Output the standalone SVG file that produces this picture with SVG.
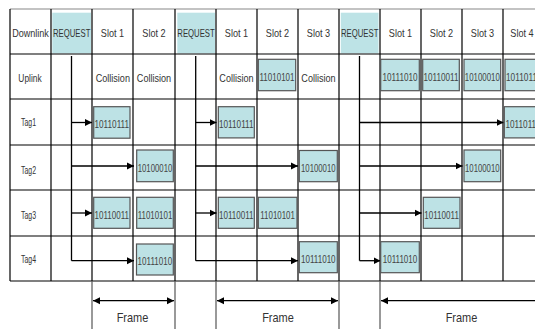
<svg xmlns="http://www.w3.org/2000/svg" width="535" height="329" viewBox="0 0 535 329">
<defs>
<marker id="ah" markerUnits="userSpaceOnUse" markerWidth="8" markerHeight="8" refX="7" refY="4" orient="auto-start-reverse">
<path d="M0,0.5 L7,4 L0,7.5 z" fill="#000"/>
</marker>
<style>
.t{font-family:"Liberation Sans",Arial,sans-serif;font-size:11px;fill:#333;text-anchor:middle}
.d{font-family:"Liberation Sans",Arial,sans-serif;font-size:10.5px;fill:#444;text-anchor:middle}
.f{font-family:"Liberation Sans",Arial,sans-serif;font-size:13.5px;fill:#333;text-anchor:middle}
.grid line{stroke:#000;stroke-width:1.2}
.req{fill:#bde3e6}
.box{fill:#bde2e5;stroke:#555;stroke-width:1.2}
.conn line,.conn polyline{stroke:#000;stroke-width:1.3;fill:none}
.guide line{stroke:#555;stroke-width:1.2}
</style>
</defs>
<rect width="535" height="329" fill="#fff"/>

<g id="request-fills">
<rect class="req" x="52.3" y="12.7" width="38.7" height="40.6"/>
<rect class="req" x="177.3" y="12.7" width="37.7" height="40.6"/>
<rect class="req" x="340.8" y="12.7" width="37.7" height="40.6"/>
</g>

<g id="grid" class="grid">
<line x1="10" y1="9" x2="535" y2="9" style="stroke:#888"/>
<line x1="10" y1="54" x2="535" y2="54"/>
<line x1="10" y1="99" x2="535" y2="99"/>
<line x1="10" y1="145" x2="535" y2="145"/>
<line x1="10" y1="190" x2="535" y2="190"/>
<line x1="10" y1="236" x2="535" y2="236"/>
<line x1="10" y1="281" x2="535" y2="281"/>
<line x1="10" y1="9" x2="10" y2="281"/>
<line x1="51" y1="9" x2="51" y2="281"/>
<line x1="92" y1="9" x2="92" y2="281"/>
<line x1="133" y1="9" x2="133" y2="281"/>
<line x1="175" y1="9" x2="175" y2="281"/>
<line x1="216" y1="9" x2="216" y2="281"/>
<line x1="257" y1="9" x2="257" y2="281"/>
<line x1="298" y1="9" x2="298" y2="281"/>
<line x1="339" y1="9" x2="339" y2="281"/>
<line x1="380" y1="9" x2="380" y2="281"/>
<line x1="421" y1="9" x2="421" y2="281"/>
<line x1="462" y1="9" x2="462" y2="281"/>
<line x1="503" y1="9" x2="503" y2="281"/>
</g>

<g id="labels">
<text class="t" x="30.5" y="36.5" textLength="36.7" lengthAdjust="spacingAndGlyphs">Downlink</text>
<text class="t" x="71.7" y="36.5" textLength="37.4" lengthAdjust="spacingAndGlyphs">REQUEST</text>
<text class="t" x="112.5" y="36.5" textLength="23.3" lengthAdjust="spacingAndGlyphs">Slot 1</text>
<text class="t" x="154" y="36.5" textLength="23.3" lengthAdjust="spacingAndGlyphs">Slot 2</text>
<text class="t" x="196" y="36.5" textLength="37.4" lengthAdjust="spacingAndGlyphs">REQUEST</text>
<text class="t" x="236.5" y="36.5" textLength="23.3" lengthAdjust="spacingAndGlyphs">Slot 1</text>
<text class="t" x="277.5" y="36.5" textLength="23.3" lengthAdjust="spacingAndGlyphs">Slot 2</text>
<text class="t" x="318.5" y="36.5" textLength="23.3" lengthAdjust="spacingAndGlyphs">Slot 3</text>
<text class="t" x="359.7" y="36.5" textLength="37.4" lengthAdjust="spacingAndGlyphs">REQUEST</text>
<text class="t" x="400.5" y="36.5" textLength="23.3" lengthAdjust="spacingAndGlyphs">Slot 1</text>
<text class="t" x="441.5" y="36.5" textLength="23.3" lengthAdjust="spacingAndGlyphs">Slot 2</text>
<text class="t" x="482.5" y="36.5" textLength="23.3" lengthAdjust="spacingAndGlyphs">Slot 3</text>
<text class="t" x="522" y="36.5" textLength="23.3" lengthAdjust="spacingAndGlyphs">Slot 4</text>
<text class="t" x="30" y="81.5" textLength="23.3" lengthAdjust="spacingAndGlyphs">Uplink</text>
<text class="t" x="112.8" y="81.5" textLength="34.3" lengthAdjust="spacingAndGlyphs">Collision</text>
<text class="t" x="154" y="81.5" textLength="34.3" lengthAdjust="spacingAndGlyphs">Collision</text>
<text class="t" x="236.5" y="81.5" textLength="34.3" lengthAdjust="spacingAndGlyphs">Collision</text>
<text class="t" x="318.5" y="81.5" textLength="34.3" lengthAdjust="spacingAndGlyphs">Collision</text>
<text class="t" x="28.5" y="126" textLength="15" lengthAdjust="spacingAndGlyphs">Tag1</text>
<text class="t" x="28.5" y="174" textLength="15" lengthAdjust="spacingAndGlyphs">Tag2</text>
<text class="t" x="28.5" y="218.5" textLength="15" lengthAdjust="spacingAndGlyphs">Tag3</text>
<text class="t" x="28.5" y="263" textLength="15" lengthAdjust="spacingAndGlyphs">Tag4</text>
</g>

<g id="connectors" class="conn">
<line x1="71.5" y1="56" x2="71.5" y2="260.7"/>
<line x1="71.5" y1="122.5" x2="92" y2="122.5" marker-end="url(#ah)"/>
<line x1="71.5" y1="166" x2="134" y2="166" marker-end="url(#ah)"/>
<line x1="71.5" y1="213" x2="92" y2="213" marker-end="url(#ah)"/>
<polyline points="71.5,260.7 134,260.7" marker-end="url(#ah)"/>
<line x1="195.7" y1="56" x2="195.7" y2="260.7"/>
<line x1="195.7" y1="122.5" x2="216.5" y2="122.5" marker-end="url(#ah)"/>
<line x1="195.7" y1="166" x2="298" y2="166" marker-end="url(#ah)"/>
<line x1="195.7" y1="213" x2="216.5" y2="213" marker-end="url(#ah)"/>
<line x1="195.7" y1="260.7" x2="298" y2="260.7" marker-end="url(#ah)"/>
<line x1="359.5" y1="56" x2="359.5" y2="260.7"/>
<line x1="359.5" y1="122.5" x2="503.5" y2="122.5" marker-end="url(#ah)"/>
<line x1="359.5" y1="166" x2="462.5" y2="166" marker-end="url(#ah)"/>
<line x1="359.5" y1="213" x2="421.5" y2="213" marker-end="url(#ah)"/>
<line x1="359.5" y1="260.7" x2="380.5" y2="260.7" marker-end="url(#ah)"/>
<line x1="93" y1="300.7" x2="174" y2="300.7" marker-start="url(#ah)" marker-end="url(#ah)"/>
<line x1="217" y1="300.7" x2="338" y2="300.7" marker-start="url(#ah)" marker-end="url(#ah)"/>
<line x1="381" y1="300.7" x2="545" y2="300.7" marker-start="url(#ah)"/>
</g>

<g id="frame-guides" class="guide">
<line x1="92" y1="281" x2="92" y2="329"/>
<line x1="175" y1="281" x2="175" y2="329"/>
<line x1="216" y1="281" x2="216" y2="329"/>
<line x1="339" y1="281" x2="339" y2="329"/>
<line x1="380" y1="281" x2="380" y2="329"/>
</g>

<g id="frame-labels">
<text class="f" x="132.5" y="322" textLength="31.7" lengthAdjust="spacingAndGlyphs">Frame</text>
<text class="f" x="278" y="322" textLength="31.7" lengthAdjust="spacingAndGlyphs">Frame</text>
<text class="f" x="461.5" y="322" textLength="31.7" lengthAdjust="spacingAndGlyphs">Frame</text>
</g>

<g id="uplink-data">
<rect class="box" x="258.3" y="59.3" width="37.4" height="31.4"/><text class="d" x="277" y="80.8" textLength="35" lengthAdjust="spacingAndGlyphs">11010101</text>
<rect class="box" x="380.7" y="59.3" width="38.6" height="31.4"/><text class="d" x="400" y="80.8" textLength="35" lengthAdjust="spacingAndGlyphs">10111010</text>
<rect class="box" x="422.7" y="59.3" width="36.6" height="31.4"/><text class="d" x="441" y="80.8" textLength="35" lengthAdjust="spacingAndGlyphs">10110011</text>
<rect class="box" x="464" y="59.3" width="36.7" height="31.4"/><text class="d" x="482.3" y="80.8" textLength="35" lengthAdjust="spacingAndGlyphs">10100010</text>
<rect class="box" x="505" y="59.3" width="37" height="31.4"/><text class="d" x="523.5" y="80.8" textLength="35" lengthAdjust="spacingAndGlyphs">10110111</text>
</g>

<g id="tag1-data">
<rect class="box" x="93.7" y="106.7" width="36.3" height="31.5"/><text class="d" x="111.8" y="128.3" textLength="34.6" lengthAdjust="spacingAndGlyphs">10110111</text>
<rect class="box" x="218.3" y="106.7" width="36" height="31.2"/><text class="d" x="236.3" y="128.3" textLength="34.6" lengthAdjust="spacingAndGlyphs">10110111</text>
<rect class="box" x="504.3" y="106.7" width="37" height="31.2"/><text class="d" x="522.8" y="128.3" textLength="34.6" lengthAdjust="spacingAndGlyphs">10110111</text>
</g>

<g id="tag2-data">
<rect class="box" x="136.7" y="150" width="36.6" height="31.7"/><text class="d" x="155" y="171.5" textLength="34.6" lengthAdjust="spacingAndGlyphs">10100010</text>
<rect class="box" x="299.3" y="150.5" width="38" height="31.2"/><text class="d" x="318.3" y="171.8" textLength="34.6" lengthAdjust="spacingAndGlyphs">10100010</text>
<rect class="box" x="464" y="150" width="36.7" height="31.7"/><text class="d" x="482.3" y="171.5" textLength="34.6" lengthAdjust="spacingAndGlyphs">10100010</text>
</g>

<g id="tag3-data">
<rect class="box" x="93.7" y="197.3" width="36.3" height="31"/><text class="d" x="111.8" y="218.8" textLength="34.6" lengthAdjust="spacingAndGlyphs">10110011</text>
<rect class="box" x="136.7" y="197.3" width="36.6" height="31"/><text class="d" x="155" y="218.8" textLength="34.6" lengthAdjust="spacingAndGlyphs">11010101</text>
<rect class="box" x="218.3" y="197.3" width="36" height="31"/><text class="d" x="236.3" y="218.8" textLength="34.6" lengthAdjust="spacingAndGlyphs">10110011</text>
<rect class="box" x="258.3" y="197.3" width="38.7" height="31"/><text class="d" x="277.6" y="218.8" textLength="34.6" lengthAdjust="spacingAndGlyphs">11010101</text>
<rect class="box" x="423.3" y="197.3" width="36.7" height="31"/><text class="d" x="441.6" y="218.8" textLength="34.6" lengthAdjust="spacingAndGlyphs">10110011</text>
</g>

<g id="tag4-data">
<rect class="box" x="136.5" y="244" width="36.8" height="31"/><text class="d" x="154.9" y="265.3" textLength="34.6" lengthAdjust="spacingAndGlyphs">10111010</text>
<rect class="box" x="299.3" y="241.7" width="38" height="31"/><text class="d" x="318.3" y="263" textLength="34.6" lengthAdjust="spacingAndGlyphs">10111010</text>
<rect class="box" x="380.7" y="241.7" width="38.6" height="31"/><text class="d" x="400" y="263" textLength="34.6" lengthAdjust="spacingAndGlyphs">10111010</text>
</g>
</svg>
